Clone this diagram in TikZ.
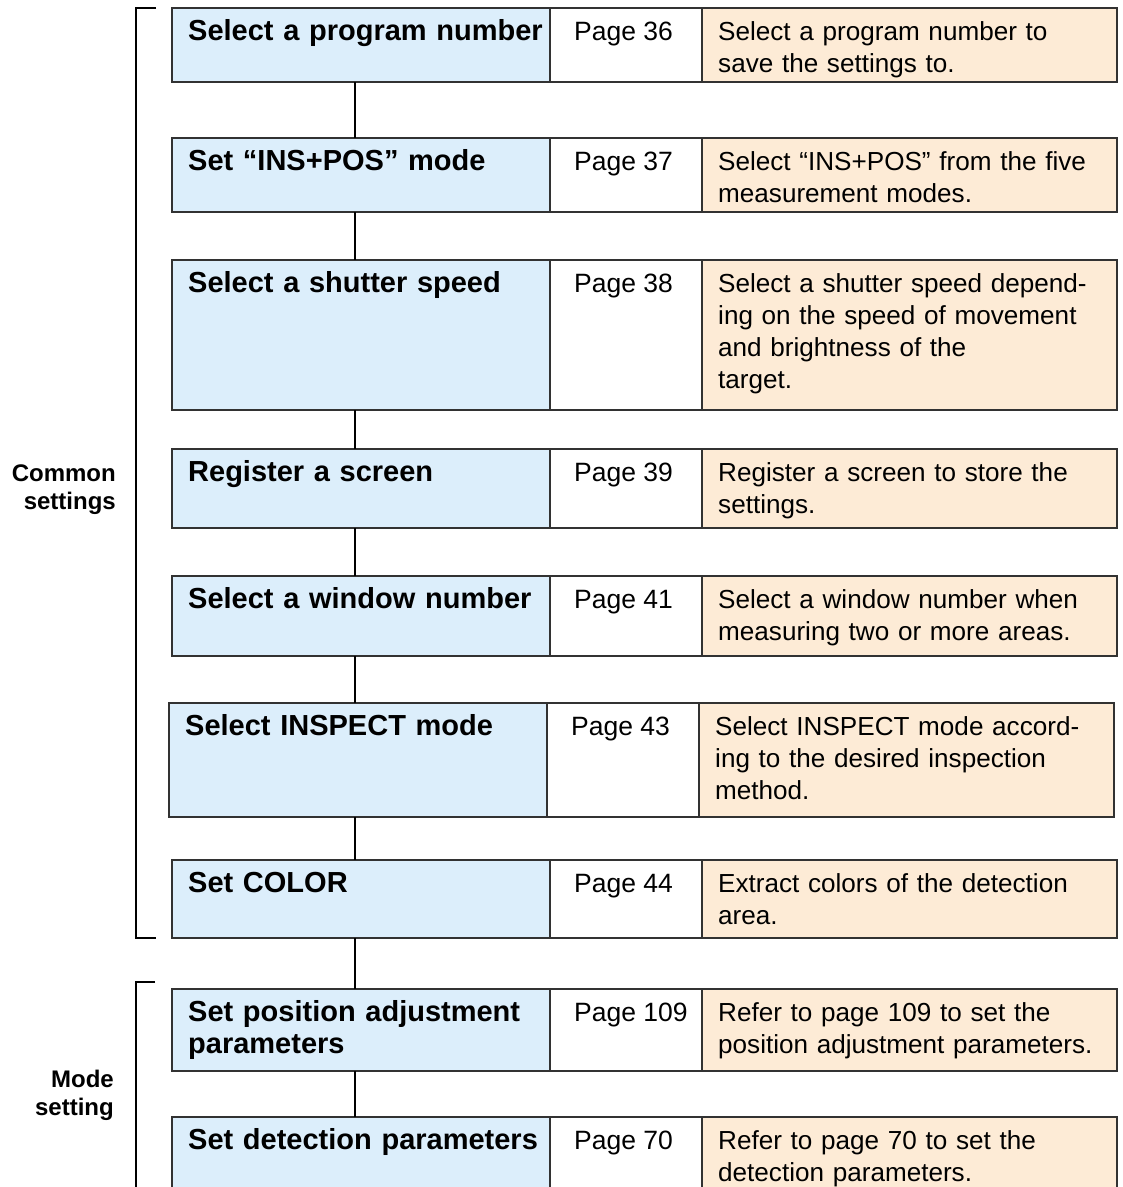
\documentclass[tikz,border=0pt]{standalone}
\usepackage{fontspec}
\setmainfont{Liberation Sans}
\usepackage{xcolor}
\usetikzlibrary{positioning}
\definecolor{taskblue}{RGB}{220,238,251}
\definecolor{notetan}{RGB}{253,235,214}
\definecolor{rulegray}{RGB}{50,50,50}

\begin{document}
\begin{tikzpicture}[x=1pt,y=-1pt,
  cellbox/.style={draw=rulegray,line width=1.3pt,inner sep=0pt,outer sep=0pt},
  taskbox/.style={cellbox,fill=taskblue,anchor=north west,minimum width=378pt},
  pagebox/.style={cellbox,fill=white,minimum width=152pt},
  notebox/.style={cellbox,fill=notetan,minimum width=415pt},
  tasktxt/.style={anchor=base west,xshift=16pt,yshift=-32pt,inner sep=0pt,text width=370pt,align=left,font=\fontsize{29}{32}\selectfont\bfseries},
  pagetxt/.style={anchor=base west,xshift=24pt,yshift=-32pt,inner sep=0pt,font=\fontsize{26.5}{32}\selectfont},
  notetxt/.style={anchor=base west,xshift=16pt,yshift=-32pt,inner sep=0pt,text width=405pt,align=left,font=\fontsize{26.1}{32}\selectfont},
  sidetxt/.style={anchor=east,align=right,inner sep=0pt,font=\fontsize{24}{28}\selectfont\bfseries},
  link/.style={line width=2pt},
  bracket/.style={line width=2pt}
]
\useasboundingbox (0,0) rectangle (1123,1187);
\clip (0,0) rectangle (1123,1187);

% rows
\node[taskbox,minimum height=74pt] (t1) at (172,8) {};
\node[pagebox,minimum height=74pt,right=0pt of t1] (p1) {};
\node[notebox,minimum height=74pt,right=0pt of p1] (n1) {};
\node[tasktxt] at (t1.north west) {Select a program number};
\node[pagetxt] at (p1.north west) {Page 36};
\node[notetxt] at (n1.north west) {Select a program number to\\save the settings to.};

\node[taskbox,minimum height=74pt] (t2) at (172,138) {};
\node[pagebox,minimum height=74pt,right=0pt of t2] (p2) {};
\node[notebox,minimum height=74pt,right=0pt of p2] (n2) {};
\node[tasktxt] at (t2.north west) {Set “INS+POS” mode};
\node[pagetxt] at (p2.north west) {Page 37};
\node[notetxt] at (n2.north west) {Select “INS+POS” from the five\\measurement modes.};

\node[taskbox,minimum height=150pt] (t3) at (172,260) {};
\node[pagebox,minimum height=150pt,right=0pt of t3] (p3) {};
\node[notebox,minimum height=150pt,right=0pt of p3] (n3) {};
\node[tasktxt] at (t3.north west) {Select a shutter speed};
\node[pagetxt] at (p3.north west) {Page 38};
\node[notetxt] at (n3.north west) {Select a shutter speed depend-\\ing on the speed of movement\\and brightness of the\\target.};

\node[taskbox,minimum height=79pt] (t4) at (172,449) {};
\node[pagebox,minimum height=79pt,right=0pt of t4] (p4) {};
\node[notebox,minimum height=79pt,right=0pt of p4] (n4) {};
\node[tasktxt] at (t4.north west) {Register a screen};
\node[pagetxt] at (p4.north west) {Page 39};
\node[notetxt] at (n4.north west) {Register a screen to store the\\settings.};

\node[taskbox,minimum height=80pt] (t5) at (172,576) {};
\node[pagebox,minimum height=80pt,right=0pt of t5] (p5) {};
\node[notebox,minimum height=80pt,right=0pt of p5] (n5) {};
\node[tasktxt] at (t5.north west) {Select a window number};
\node[pagetxt] at (p5.north west) {Page 41};
\node[notetxt] at (n5.north west) {Select a window number when\\measuring two or more areas.};

\node[taskbox,minimum height=114pt] (t6) at (169,703) {};
\node[pagebox,minimum height=114pt,right=0pt of t6] (p6) {};
\node[notebox,minimum height=114pt,right=0pt of p6] (n6) {};
\node[tasktxt] at (t6.north west) {Select INSPECT mode};
\node[pagetxt] at (p6.north west) {Page 43};
\node[notetxt] at (n6.north west) {Select INSPECT mode accord-\\ing to the desired inspection\\method.};

\node[taskbox,minimum height=78pt] (t7) at (172,860) {};
\node[pagebox,minimum height=78pt,right=0pt of t7] (p7) {};
\node[notebox,minimum height=78pt,right=0pt of p7] (n7) {};
\node[tasktxt] at (t7.north west) {Set COLOR};
\node[pagetxt] at (p7.north west) {Page 44};
\node[notetxt] at (n7.north west) {Extract colors of the detection\\area.};

\node[taskbox,minimum height=82pt] (t8) at (172,989) {};
\node[pagebox,minimum height=82pt,right=0pt of t8] (p8) {};
\node[notebox,minimum height=82pt,right=0pt of p8] (n8) {};
\node[tasktxt] at (t8.north west) {Set position adjustment\\parameters};
\node[pagetxt] at (p8.north west) {Page 109};
\node[notetxt] at (n8.north west) {Refer to page 109 to set the\\position adjustment parameters.};

\node[taskbox,minimum height=100pt] (t9) at (172,1117) {};
\node[pagebox,minimum height=100pt,right=0pt of t9] (p9) {};
\node[notebox,minimum height=100pt,right=0pt of p9] (n9) {};
\node[tasktxt] at (t9.north west) {Set detection parameters};
\node[pagetxt] at (p9.north west) {Page 70};
\node[notetxt] at (n9.north west) {Refer to page 70 to set the\\detection parameters.};

% connectors
\coordinate (spine) at (355,0);
\draw[link] (t1.south -| spine) -- (t2.north -| spine);
\draw[link] (t2.south -| spine) -- (t3.north -| spine);
\draw[link] (t3.south -| spine) -- (t4.north -| spine);
\draw[link] (t4.south -| spine) -- (t5.north -| spine);
\draw[link] (t5.south -| spine) -- (t6.north -| spine);
\draw[link] (t6.south -| spine) -- (t7.north -| spine);
\draw[link] (t7.south -| spine) -- (t8.north -| spine);
\draw[link] (t8.south -| spine) -- (t9.north -| spine);

% brackets
\draw[bracket] ([xshift=-16pt]t1.north west) -| ([xshift=-36pt]t7.south west) -- ([xshift=-16pt]t7.south west);
\draw[bracket] ([xshift=-17pt,yshift=7pt]t8.north west) -| ([xshift=-36pt]t9.south west);
\node[sidetxt] (common) at (116,490) {Common\\settings};
\node[sidetxt] (mode) at (114,1095) {Mode\\setting};
\end{tikzpicture}
\end{document}
